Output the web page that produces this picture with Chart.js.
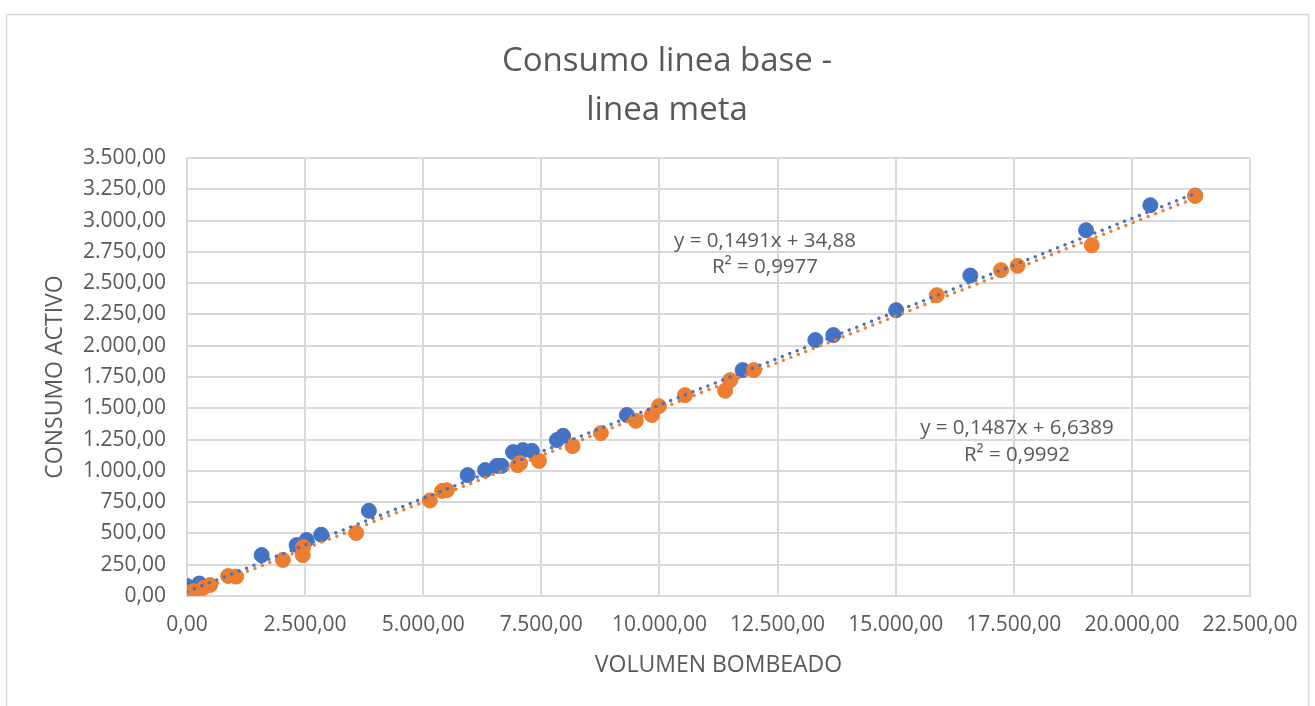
<!DOCTYPE html>
<html>
<head>
<meta charset="utf-8">
<script src="https://cdn.jsdelivr.net/npm/chart.js@4"></script>
<style>
  html, body { margin: 0; padding: 0; background: #fff; }
  #wrap { width: 1315px; height: 706px; }
</style>
</head>
<body>
<div id="wrap"><canvas id="chart" width="1315" height="706"></canvas></div>
<script>
// datos
const titleLines = ['Consumo linea base -', 'linea meta'];
const xTitle = 'VOLUMEN BOMBEADO';
const yTitle = 'CONSUMO ACTIVO';

const baseX = [0, 260, 1580, 2320, 2530, 2840, 3850, 5940, 6310, 6560, 6660, 6900, 7110, 7300, 7830, 7960, 9310, 11760, 13300, 13680, 15010, 16580, 19030, 20390, 21340];
const baseY = [80, 100, 327, 407, 447, 490, 681, 966, 1006, 1040, 1040, 1150, 1166, 1160, 1246, 1280, 1446, 1805, 2045, 2085, 2284, 2561, 2923, 3123, 3200];

const metaX = [20, 150, 340, 490, 870, 1040, 2030, 2450, 2460, 3580, 5140, 5400, 5500, 7000, 7050, 7450, 8160, 8760, 9500, 9840, 9990, 10540, 11390, 11500, 12000, 15870, 17230, 17580, 19150, 21340];
const metaY = [24, 40, 64, 88, 160, 155, 288, 327, 391, 503, 763, 840, 845, 1046, 1062, 1080, 1198, 1302, 1400, 1446, 1517, 1605, 1640, 1725, 1805, 2404, 2604, 2638, 2803, 3197];

// ecuaciones de tendencia (pendiente, intercepto)
const baseTrend = [0.1491, 34.88];
const metaTrend = [0.1487, 6.6389];
const baseLabel = ['y = 0,1491x + 34,88', 'R² = 0,9977'];
const metaLabel = ['y = 0,1487x + 6,6389', 'R² = 0,9992'];

const xTicks = [0, 2500, 5000, 7500, 10000, 12500, 15000, 17500, 20000, 22500];
const yTicks = [0, 250, 500, 750, 1000, 1250, 1500, 1750, 2000, 2250, 2500, 2750, 3000, 3250, 3500];

const BLUE = '#4472C4';
const ORANGE = '#ED7D31';
const TEXT = '#595959';
const FONT = '"Open Sans", "Noto Sans", sans-serif';

function toPoints(xs, ys) {
    return xs.map((x, i) => ({ x: x, y: ys[i] }));
}
function trendPoints(xs, t) {
    const lo = Math.min(...xs), hi = Math.max(...xs);
    return [{ x: lo, y: t[0] * lo + t[1] }, { x: hi, y: t[0] * hi + t[1] }];
}
// formato 3.500,00
function fmt(v) {
    const s = Math.round(v).toString().replace(/\B(?=(\d{3})+(?!\d))/g, '.');
    return s + ',00';
}

// título, etiquetas de tendencia y borde
const extras = {
    id: 'extras',
    beforeDraw(chart) {
        const c = chart.ctx;
        c.save();
        c.strokeStyle = '#d9d9d9';
        c.lineWidth = 1.5;
        c.strokeRect(6.5, 14.5, 1302, 720);
        c.restore();
    },
    afterDraw(chart) {
        const c = chart.ctx;
        c.save();
        c.fillStyle = TEXT;
        c.textAlign = 'center';
        c.textBaseline = 'alphabetic';
        c.font = '33px ' + FONT;
        c.fillText(titleLines[0], 667, 71);
        c.fillText(titleLines[1], 667, 120);

        c.font = '20.5px ' + FONT;
        c.fillText(baseLabel[0], 765, 247);
        c.fillText(baseLabel[1], 765, 273);
        c.fillText(metaLabel[0], 1017, 434);
        c.fillText(metaLabel[1], 1017, 461);
        c.restore();
    }
};

const ctx = document.getElementById('chart').getContext('2d');
new Chart(ctx, {
    type: 'scatter',
    data: {
        datasets: [
            {
                label: 'Tendencia base',
                type: 'line',
                data: trendPoints(baseX, baseTrend),
                borderColor: BLUE,
                borderWidth: 3.5,
                borderDash: [0, 8],
                borderCapStyle: 'round',
                pointRadius: 0,
                fill: false,
                order: 1
            },
            {
                label: 'Tendencia meta',
                type: 'line',
                data: trendPoints(metaX, metaTrend),
                borderColor: ORANGE,
                borderWidth: 3.5,
                borderDash: [0, 8],
                borderCapStyle: 'round',
                pointRadius: 0,
                fill: false,
                order: 2
            },
            {
                label: 'Linea meta',
                data: toPoints(metaX, metaY),
                backgroundColor: ORANGE,
                borderColor: ORANGE,
                pointRadius: 7.5,
                order: 3
            },
            {
                label: 'Linea base',
                data: toPoints(baseX, baseY),
                backgroundColor: BLUE,
                borderColor: BLUE,
                pointRadius: 7.5,
                order: 4
            }
        ]
    },
    options: {
        responsive: false,
        animation: false,
        layout: { padding: { top: 158, left: 20, right: 65, bottom: 20 } },
        plugins: {
            legend: { display: false },
            tooltip: { enabled: false }
        },
        scales: {
            x: {
                type: 'linear',
                min: 0,
                max: 22500,
                afterBuildTicks: s => { s.ticks = xTicks.map(v => ({ value: v })); },
                afterFit: s => { s.height = 90; },
                ticks: {
                    color: TEXT,
                    font: { size: 21, family: FONT },
                    padding: 16,
                    maxRotation: 0,
                    callback: v => fmt(v)
                },
                grid: { color: '#d9d9d9', lineWidth: 2, drawTicks: false },
                border: { color: '#d9d9d9', width: 2 },
                title: {
                    display: true,
                    text: xTitle,
                    color: TEXT,
                    font: { size: 23, family: FONT },
                    padding: { top: 4, bottom: 7 }
                }
            },
            y: {
                type: 'linear',
                min: 0,
                max: 3500,
                afterBuildTicks: s => { s.ticks = yTicks.map(v => ({ value: v })); },
                afterFit: s => { s.width = 167; },
                ticks: {
                    color: TEXT,
                    font: { size: 21, family: FONT },
                    padding: 21,
                    callback: v => fmt(v)
                },
                grid: { color: '#d9d9d9', lineWidth: 2, drawTicks: false },
                border: { color: '#d9d9d9', width: 2 },
                title: {
                    display: true,
                    text: yTitle,
                    color: TEXT,
                    font: { size: 23, family: FONT },
                    padding: { top: 22, bottom: 0 }
                }
            }
        }
    },
    plugins: [extras]
});
</script>
</body>
</html>
